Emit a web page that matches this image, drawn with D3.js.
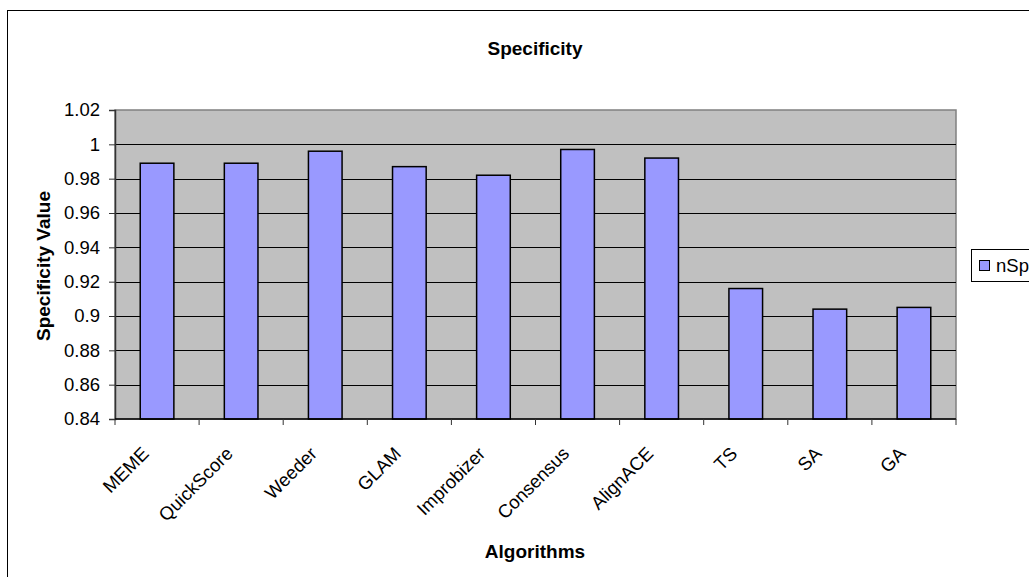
<!DOCTYPE html>
<html>
<head>
<meta charset="utf-8">
<script src="https://cdn.jsdelivr.net/npm/d3@7"></script>
<style>
  html, body { margin: 0; padding: 0; background: #fff; overflow: hidden; }
  svg { display: block; }
  text { font-family: "Liberation Sans", Arial, sans-serif; fill: #000; }
</style>
</head>
<body>
<svg id="chart" width="1029" height="577"></svg>
<script>
const categories = ["MEME", "QuickScore", "Weeder", "GLAM", "Improbizer", "Consensus", "AlignACE", "TS", "SA", "GA"];
const values = [0.989, 0.989, 0.996, 0.987, 0.982, 0.997, 0.992, 0.916, 0.904, 0.905];
const yTicks = [0.84, 0.86, 0.88, 0.90, 0.92, 0.94, 0.96, 0.98, 1.00, 1.02];
const yTickLabels = ["0.84", "0.86", "0.88", "0.9", "0.92", "0.94", "0.96", "0.98", "1", "1.02"];
const seriesName = "nSpecificity";
const title = "Specificity";
const xTitle = "Algorithms";
const yTitle = "Specificity Value";

const svg = d3.select("#chart");
const plot = { left: 115, right: 956, top: 110, bottom: 419 };

// outer chart border
svg.append("rect").attr("x", 7.5).attr("y", 10.5).attr("width", 1100).attr("height", 700)
  .attr("fill", "#fff").attr("stroke", "#000").attr("stroke-width", 1);

const x = d3.scaleBand().domain(categories).range([plot.left, plot.right]).paddingInner(0.6).paddingOuter(0.3);
const xb = d3.scaleBand().domain(categories).range([plot.left, plot.right]);
const y = d3.scaleLinear().domain([0.84, 1.02]).range([plot.bottom, plot.top]);

// plot background
svg.append("rect").attr("x", plot.left).attr("y", plot.top)
  .attr("width", plot.right - plot.left).attr("height", plot.bottom - plot.top)
  .attr("fill", "#C0C0C0").attr("stroke", "#808080").attr("stroke-width", 1.5);

// gridlines
svg.append("g").selectAll("line").data(yTicks.slice(1, -1)).join("line")
  .attr("x1", plot.left).attr("x2", plot.right)
  .attr("y1", d => Math.round(y(d)) + 0.5).attr("y2", d => Math.round(y(d)) + 0.5)
  .attr("stroke", "#000").attr("stroke-width", 1);

// bars
svg.append("g").selectAll("rect").data(values).join("rect")
  .attr("x", (d, i) => x(categories[i]))
  .attr("y", d => y(d))
  .attr("width", x.bandwidth())
  .attr("height", d => plot.bottom - y(d))
  .attr("fill", "#9999FF").attr("stroke", "#000").attr("stroke-width", 1.5);

// y axis
const yAxis = d3.axisLeft(y).tickValues(yTicks).tickSize(6).tickPadding(9)
  .tickFormat((d, i) => yTickLabels[i]);
const gy = svg.append("g").attr("transform", `translate(${plot.left},0)`).call(yAxis);
gy.select(".domain").attr("stroke", "#333").attr("stroke-width", 1.5);
gy.selectAll(".tick line").attr("stroke", "#333");
gy.selectAll("text").style("font-size", "18.5px").style("font-family", "Liberation Sans, Arial, sans-serif");

// x axis
const gx = svg.append("g").attr("transform", `translate(0,${plot.bottom})`);
gx.append("line").attr("x1", plot.left).attr("x2", plot.right).attr("y1", 0).attr("y2", 0)
  .attr("stroke", "#000").attr("stroke-width", 1.5);
const boundaries = categories.map(c => xb(c)).concat([plot.right]);
gx.selectAll("line.tk").data(boundaries).join("line").attr("class", "tk")
  .attr("x1", d => d).attr("x2", d => d).attr("y1", 0).attr("y2", 6)
  .attr("stroke", "#333");
gx.selectAll("text").data(categories).join("text")
  .attr("transform", d => `translate(${xb(d) + xb.bandwidth() / 2 - 17},${26}) rotate(-45)`)
  .attr("text-anchor", "end")
  .attr("dy", "0.75em")
  .style("font-size", "18.5px")
  .text(d => d);

// title
svg.append("text").attr("x", 535).attr("y", 55).attr("text-anchor", "middle")
  .style("font-size", "19px").style("font-weight", "bold").text(title);
svg.append("text").attr("x", 535).attr("y", 558).attr("text-anchor", "middle")
  .style("font-size", "19px").style("font-weight", "bold").text(xTitle);
svg.append("text").attr("transform", "translate(50,266) rotate(-90)").attr("text-anchor", "middle")
  .style("font-size", "19px").style("font-weight", "bold").text(yTitle);

// legend
const lg = svg.append("g");
lg.append("rect").attr("x", 971.5).attr("y", 249.5).attr("width", 150).attr("height", 32)
  .attr("fill", "#fff").attr("stroke", "#000");
lg.append("rect").attr("x", 979.5).attr("y", 260.5).attr("width", 10).attr("height", 10)
  .attr("fill", "#9999FF").attr("stroke", "#000");
lg.append("text").attr("x", 996).attr("y", 272).style("font-size", "18.5px").text(seriesName);
</script>
</body>
</html>
